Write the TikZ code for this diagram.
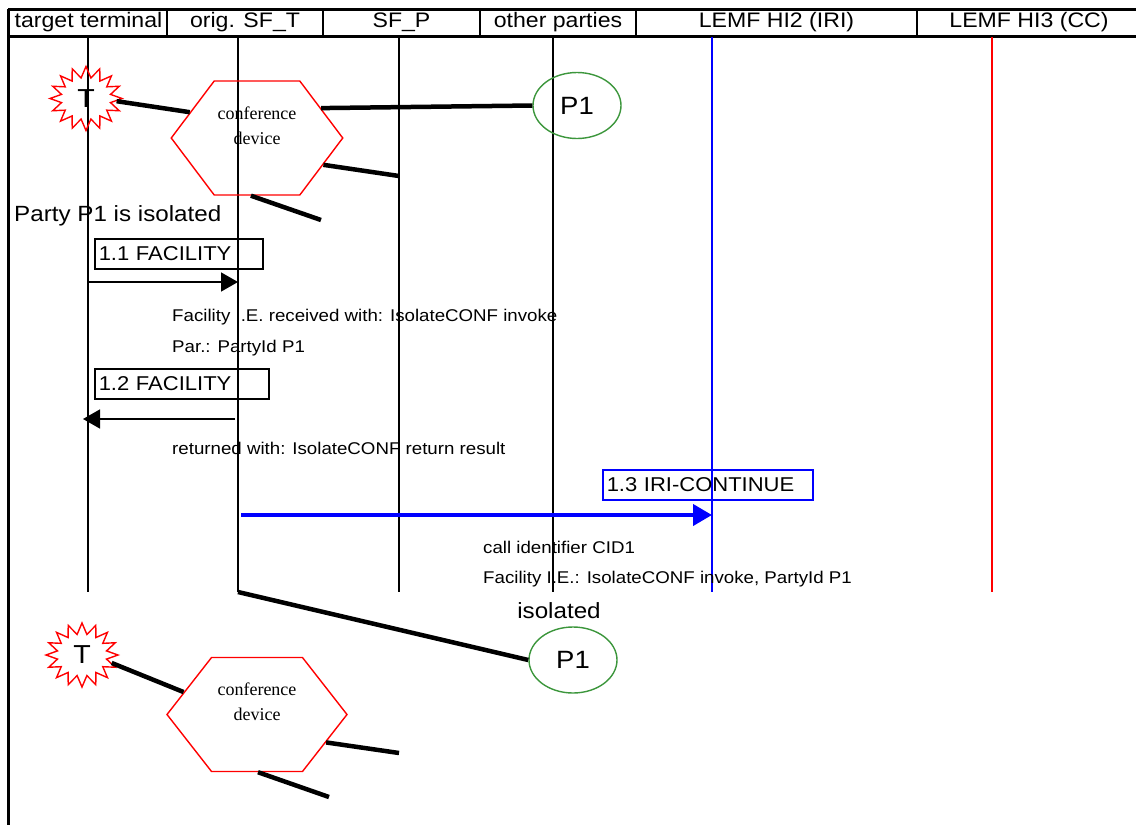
\documentclass[tikz,border=0pt]{standalone}
\usepackage{fontspec}
\setmainfont{Liberation Sans}[FakeStretch=1.1]
\newfontfamily\devfont{Liberation Serif}
\usetikzlibrary{positioning,shapes.geometric,shapes.symbols,arrows.meta}
\definecolor{pgreen}{RGB}{60,150,60}
\tikzset{hdr/.style = {font=\fontsize{21}{24}\selectfont, inner sep=0pt}}
\tikzset{lifeline/.style = {line width=1.5pt}}
\tikzset{term/.style = {draw=red, starburst, starburst points=16, starburst point height=11pt, random starburst=0, line width=1.4pt, minimum width=72pt, minimum height=64pt, inner sep=0pt, font=\fontsize{26}{28}\selectfont}}
\tikzset{confdev/.style = {draw=red, line width=1.4pt, signal, signal to=west and east, signal pointer angle=106, minimum height=114pt, align=center, font=\devfont\fontsize{18}{25}\selectfont}}
\tikzset{party/.style = {draw=pgreen, ellipse, line width=1.4pt, minimum width=88pt, minimum height=66pt, inner sep=0pt, font=\fontsize{25}{28}\selectfont}}
\tikzset{link/.style = {line width=4.5pt}}
\tikzset{msgbox/.style = {draw, line width=1.5pt, anchor=north west, align=left, minimum height=30pt, inner xsep=4pt, inner ysep=0pt, font=\fontsize{20}{22}\selectfont}}
\tikzset{msg/.style = {-{Triangle[length=17pt,width=19pt]}, line width=1.5pt}}
\tikzset{info/.style = {anchor=west, inner sep=0pt, font=\fontsize{17}{20}\selectfont}}

\begin{document}
\begin{tikzpicture}[x=1pt, y=-1pt]
  \useasboundingbox (0,0) rectangle (1136,825);
  % header
  \draw[line width=3pt] (8,9) -- (1136,9) (8,36) -- (1136,36) (8,9) -- (8,825);
  \foreach \x in {167,323,480,636,917}
    \draw[line width=2pt] (\x,9) -- (\x,38);
  \node[hdr] (tt) at (88.5,22.5) {target terminal};
  \node[hdr] (sft) at (245,22.5) {orig. SF\_T};
  \node[hdr] (sfp) at (401.5,22.5) {SF\_P};
  \node[hdr] (oth) at (558,22.5) {other parties};
  \node[hdr] (hi2) at (776.5,22.5) {LEMF HI2 (IRI)};
  \node[hdr] (hi3) at (1029,22.5) {LEMF HI3 (CC)};
  % lifelines
  \foreach \n/\x/\c in {tt/88/black, sft/238/black, sfp/399/black, oth/553/black, hi2/712/blue, hi3/992/red} {
    \coordinate (\n-top) at (\x,37);
    \coordinate (\n-bot) at (\x,592);
    \draw[lifeline, \c] (\n-top) -- (\n-bot);
  }

  % conference before
  \node[term] (t1) at (86,98.5) {T};
  \node[confdev, minimum width=169pt] (conf1) at (257,138) {conference\\device\\\mbox{}};
  \node[party] (p1a) at (577,105.5) {P1};
  \coordinate (c1) at (399,176);
  \coordinate (c2) at (321,220);
  \draw[link] (t1.-5) -- (conf1.159);
  \draw[link] (conf1.25) -- (p1a.west);
  \draw[link] (conf1.-22) -- (c1);
  \draw[link] (conf1.264) -- (c2);

  \node[anchor=west, inner sep=0pt, font=\fontsize{22}{24}\selectfont] (iso1) at (14,216) {Party P1 is isolated};

  % 1.1
  \node[msgbox, text width=160pt] (f11) at (94,238) {1.1 FACILITY};
  \coordinate (m11a) at (88,282);
  \coordinate (m11b) at (238,282);
  \draw[msg] (m11a) -- (m11b);
  \node[info] (i11a) at (172,317) {Facility I.E. received with: IsolateCONF invoke};
  \node[info] (i11b) at (172,348) {Par.: PartyId P1};

  % 1.2
  \node[msgbox, text width=166pt] (f12) at (94,368) {1.2 FACILITY};
  \coordinate (m12a) at (235,419);
  \coordinate (m12b) at (83,419);
  \draw[msg] (m12a) -- (m12b);
  \node[info] (i12) at (172,448) {returned with: IsolateCONF return result};

  % 1.3
  \node[msgbox, draw=blue, text width=202pt] (f13) at (602,469) {1.3 IRI-CONTINUE};
  \coordinate (m13a) at (241,515);
  \coordinate (m13b) at (712,515);
  \draw[msg, blue, line width=4pt, -{Triangle[length=19pt,width=21pt]}] (m13a) -- (m13b);
  \node[info] (i13a) at (483,547) {call identifier CID1};
  \node[info] (i13b) at (483,579) {Facility I.E.: IsolateCONF invoke, PartyId P1};

  % conference after
  \node[font=\fontsize{22}{24}\selectfont] (iso2) at (559,611) {isolated};
  \node[party] (p1b) at (573,660) {P1};
  \draw[link] (sft-bot) -- (p1b.west);
  \node[term] (t2) at (82,655) {T};
  \node[confdev, minimum width=180pt, signal pointer angle=104] (conf2) at (257,714.5) {conference\\device\\\mbox{}};
  \coordinate (c3) at (399,753);
  \coordinate (c4) at (329,797);
  \draw[link] (t2.-15) -- (conf2.163);
  \draw[link] (conf2.-22) -- (c3);
  \draw[link] (conf2.271) -- (c4);
\end{tikzpicture}
\end{document}
